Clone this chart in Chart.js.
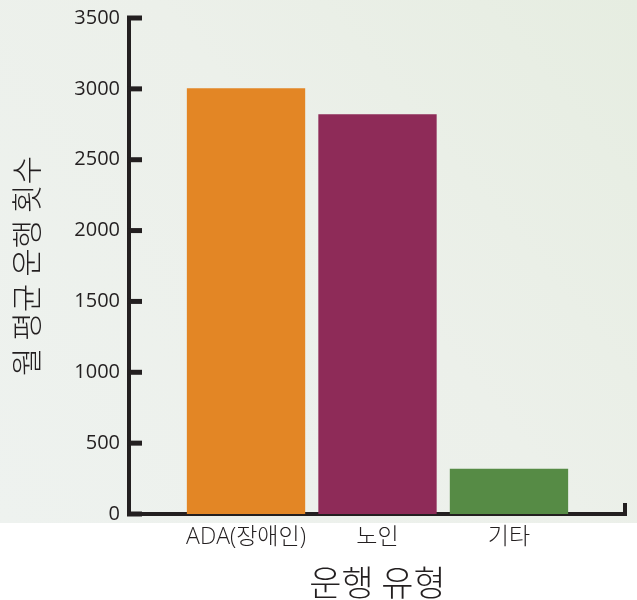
<!DOCTYPE html>
<html lang="ko">
<head>
<meta charset="UTF-8">
<title>월 평균 운행 횟수</title>
<script src="https://cdn.jsdelivr.net/npm/chart.js@4"></script>
<style>
  html, body { margin: 0; padding: 0; background: #fff; }
  #wrap { width: 637px; height: 600px; }
</style>
</head>
<body>
<div id="wrap"><canvas id="chart" width="637" height="600"></canvas></div>
<script>
// Data
const categories = ['ADA(장애인)', '노인', '기타'];
const tripCounts = [3005, 2820, 320];
const barColors = ['#e38625', '#8e2b58', '#568b45'];
const yTicks = [0, 500, 1000, 1500, 2000, 2500, 3000, 3500];

const AXIS_COLOR = '#231f20';
const TEXT_COLOR = '#231f20';

// soft gradient panel behind the plot, white strip under it
const panelBackground = {
  id: 'panelBackground',
  beforeDraw(chart) {
    const ctx = chart.ctx;
    const h = chart.scales.y.bottom + 9;
    const g = ctx.createLinearGradient(0, h, chart.width, 0);
    g.addColorStop(0, '#eef2ef');
    g.addColorStop(0.55, '#ecf0ea');
    g.addColorStop(1, '#e6ede1');
    ctx.save();
    ctx.fillStyle = g;
    ctx.fillRect(0, 0, chart.width, h);
    ctx.restore();
  }
};

// inward tick marks on the y axis and the little end cap on the x axis
const axisMarks = {
  id: 'axisMarks',
  afterDraw(chart) {
    const { ctx, chartArea } = chart;
    const y = chart.scales.y;
    ctx.save();
    ctx.strokeStyle = AXIS_COLOR;
    ctx.lineWidth = 5;
    y.ticks.forEach(t => {
      const py = y.getPixelForValue(t.value);
      ctx.beginPath();
      ctx.moveTo(chartArea.left - 2, py);
      ctx.lineTo(chartArea.left + 13, py);
      ctx.stroke();
    });
    ctx.lineWidth = 4;
    ctx.beginPath();
    ctx.moveTo(chartArea.right - 1, chartArea.bottom + 2);
    ctx.lineTo(chartArea.right - 1, chartArea.bottom - 11);
    ctx.stroke();
    ctx.restore();
  }
};

new Chart(document.getElementById('chart'), {
  type: 'bar',
  data: {
    datasets: [{
      data: tripCounts.map((v, i) => ({ x: i, y: v })),
      backgroundColor: barColors,
      borderWidth: 0,
      barPercentage: 0.9,
      categoryPercentage: 1
    }]
  },
  options: {
    responsive: false,
    animation: false,
    layout: { padding: { top: 0, right: 11, bottom: 0, left: 0 } },
    plugins: { legend: { display: false }, tooltip: { enabled: false } },
    scales: {
      x: {
        type: 'linear',
        offset: false,
        min: -0.89,
        max: 2.89,
        grid: { display: false, drawTicks: false },
        border: { display: true, color: AXIS_COLOR, width: 4 },
        ticks: {
          stepSize: 1,
          includeBounds: false,
          autoSkip: false,
          maxRotation: 0,
          padding: 10,
          color: TEXT_COLOR,
          font: { family: "'Open Sans', 'Noto Sans CJK KR', sans-serif", size: 23, weight: 300 },
          callback: v => categories[v] ?? ''
        },
        title: {
          display: true,
          text: '운행 유형',
          color: TEXT_COLOR,
          padding: { top: 0, bottom: 0 },
          font: { family: "'Noto Sans CJK KR', sans-serif", size: 35, weight: 300, lineHeight: 1 }
        },
        afterFit(scale) { scale.height = 86; }
      },
      y: {
        min: 0,
        max: 3500,
        grid: { display: false, drawTicks: false },
        border: { display: true, color: AXIS_COLOR, width: 4 },
        afterBuildTicks(scale) { scale.ticks = yTicks.map(v => ({ value: v })); },
        ticks: {
          padding: 9,
          color: TEXT_COLOR,
          font: { family: "'Open Sans', sans-serif", size: 20, lineHeight: 0.9 },
          callback: v => String(v)
        },
        title: {
          display: true,
          text: '월 평균 운행 횟수',
          color: TEXT_COLOR,
          padding: { top: 11, bottom: 0 },
          font: { family: "'Noto Sans CJK KR', sans-serif", size: 31, weight: 300, lineHeight: 1 }
        },
        afterFit(scale) { scale.width = 129; }
      }
    }
  },
  plugins: [panelBackground, axisMarks]
});
</script>
</body>
</html>
